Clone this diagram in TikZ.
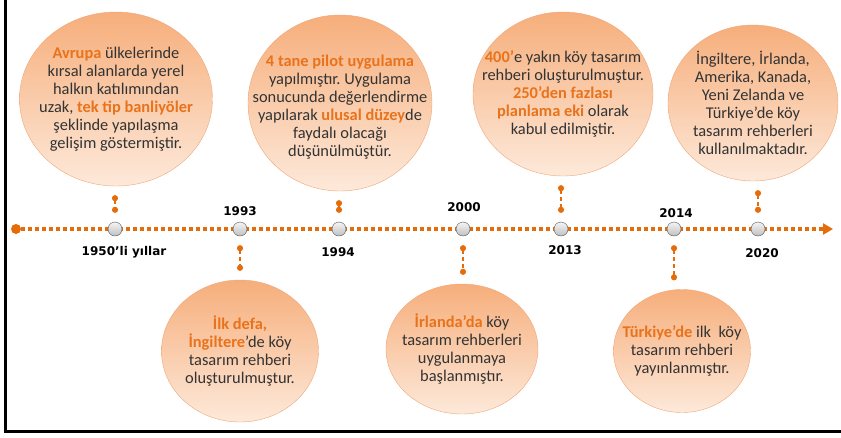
\documentclass[tikz,border=0pt]{standalone}
\usepackage{fontspec}
\setmainfont{Carlito}
\newfontfamily\yearfont{DejaVu Sans}
\usetikzlibrary{arrows.meta,shapes.geometric}
\definecolor{lineorange}{HTML}{E46C0A}
\definecolor{textorange}{HTML}{E8731C}
\definecolor{bubbletop}{HTML}{F6AE7B}
\definecolor{bubblebottom}{HTML}{FDE9DA}
\definecolor{bubbleline}{HTML}{EFA676}
\definecolor{bubbletext}{HTML}{333333}

\newcommand{\hl}[1]{\textcolor{textorange}{\textbf{#1}}}
\frenchspacing

\tikzset{
    bubble/.style={ellipse, draw=bubbleline, top color=bubbletop, bottom color=bubblebottom, inner sep=0pt},
    bubbletxt/.style={align=center, text=bubbletext, font=\fontsize{16.4}{18}\selectfont},
    yeardot/.style={circle, draw=gray!65!black, top color=gray!8, bottom color=gray!50, minimum size=14pt, inner sep=0pt},
    yearlabel/.style={font=\yearfont\bfseries\fontsize{12}{14}\selectfont, text=black},
    pin/.style={draw=lineorange, line width=2pt, dash pattern=on 4pt off 3pt, {Circle[length=6pt, sep=0pt]}-{Circle[length=6pt, sep=0pt]}, shorten <=9pt, shorten >=9pt},
}

\begin{document}
\begin{tikzpicture}[x=1pt, y=-1pt]
    \pgfmathsetmacro{\tly}{229}

    \useasboundingbox (0,0) rectangle (841,437);
    \draw [line width=3pt] (5.5,0) -- (5.5,431.5) -- (841,431.5);

    % timeline
    \node [circle, fill=lineorange, minimum size=10pt, inner sep=0pt] (start) at (16,\tly) {};
    \coordinate (tlend) at (833,\tly);
    \draw [lineorange, line width=3.5pt, dash pattern=on 4pt off 3pt, -{Triangle[length=10pt, width=11pt]}] (start) -- (tlend);

    \node [yeardot] (d1950) at (115,\tly) {};
    \node [yeardot] (d1993) at (240,\tly) {};
    \node [yeardot] (d1994) at (339,\tly) {};
    \node [yeardot] (d2000) at (463,\tly) {};
    \node [yeardot] (d2013) at (561,\tly) {};
    \node [yeardot] (d2014) at (674,\tly) {};
    \node [yeardot] (d2020) at (758,\tly) {};

    \node [yearlabel] (y1950) at (124,252) {1950’li yıllar};
    \node [yearlabel] (y1993) at (240,211) {1993};
    \node [yearlabel] (y1994) at (338,252) {1994};
    \node [yearlabel] (y2000) at (464,207) {2000};
    \node [yearlabel] (y2013) at (565,250) {2013};
    \node [yearlabel] (y2014) at (676,213) {2014};
    \node [yearlabel] (y2020) at (762,253) {2020};

    % bubbles above
    \node [bubble, minimum width=193pt, minimum height=174pt] (avrupa) at (116,99) {};
    \node [bubbletxt] (avrupatxt) at (avrupa) {\hl{Avrupa} ülkelerinde\\kırsal alanlarda yerel\\halkın katılımından\\uzak, \hl{tek tip banliyöler}\\şeklinde yapılaşma\\gelişim göstermiştir.};
    \node [bubble, minimum width=184pt, minimum height=176pt] (pilot) at (340,103) {};
    \node [bubbletxt] (pilottxt) at (340,107) {\hl{4 tane pilot uygulama}\\yapılmıştır. Uygulama\\sonucunda değerlendirme\\yapılarak \hl{ulusal düzey}de\\faydalı olacağı\\düşünülmüştür.};
    \node [bubble, minimum width=180pt, minimum height=164pt] (rehber) at (563,94) {};
    \node [bubbletxt] (rehbertxt) at (rehber) {\hl{400’}e yakın köy tasarım\\rehberi oluşturulmuştur.\\\hl{250’den fazlası}\\\hl{planlama eki} olarak\\kabul edilmiştir.};
    \node [bubble, minimum width=170pt, minimum height=156pt] (ulkeler) at (753,103) {};
    \node [bubbletxt] (ulkelertxt) at (ulkeler) {İngiltere, İrlanda,\\Amerika, Kanada,\\Yeni Zelanda ve\\Türkiye’de köy\\tasarım rehberleri\\kullanılmaktadır.};

    % bubbles below
    \node [bubble, minimum width=157pt, minimum height=142pt] (ilkdefa) at (240,351) {};
    \node [bubbletxt] (ilkdefatxt) at (ilkdefa) {\hl{İlk defa,}\\\hl{İngiltere}’de köy\\tasarım rehberi\\oluşturulmuştur.};
    \node [bubble, minimum width=152pt, minimum height=130pt] (irlanda) at (462,349) {};
    \node [bubbletxt] (irlandatxt) at (irlanda) {\hl{İrlanda’da} köy\\tasarım rehberleri\\uygulanmaya\\başlanmıştır.};
    \node [bubble, minimum width=137pt, minimum height=123pt] (turkiye) at (682,351) {};
    \node [bubbletxt] (turkiyetxt) at (turkiye) {\hl{Türkiye’de} ilk\ \ köy\\tasarım rehberi\\yayınlanmıştır.};

    % pins
    \draw [pin] (avrupa.south -| d1950) -- (d1950.north);
    \draw [pin] (pilot.south -| d1994) -- (d1994.north);
    \draw [pin] (rehber.south -| d2013) -- (d2013.north);
    \draw [pin] (ulkeler.south -| d2020) -- (d2020.north);
    \draw [pin] (d1993.south) -- (ilkdefa.north -| d1993);
    \draw [pin] (d2000.south) -- (irlanda.north -| d2000);
    \draw [pin] (d2014.south) -- (turkiye.north -| d2014);

\end{tikzpicture}
\end{document}
